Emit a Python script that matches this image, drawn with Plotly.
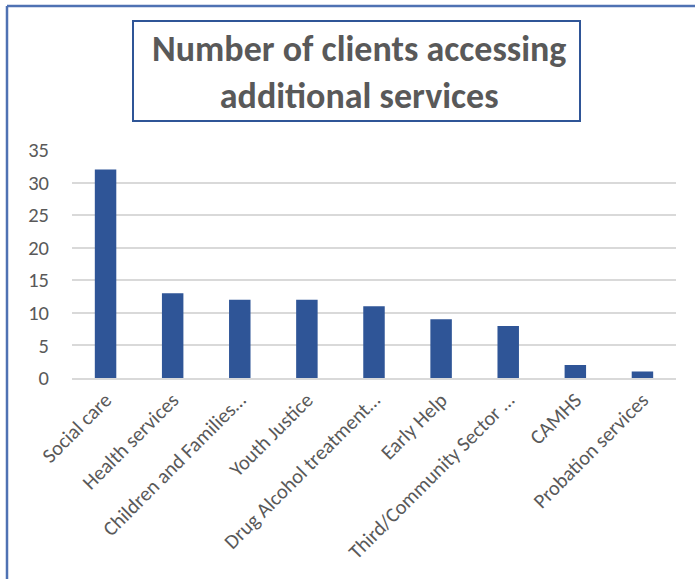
import plotly.graph_objects as go

# Services and the number of clients accessing each one
services = [
    "Social care",
    "Health services",
    "Children and Families…",
    "Youth Justice",
    "Drug Alcohol treatment…",
    "Early Help",
    "Third/Community Sector …",
    "CAMHS",
    "Probation services",
]
clients = [32, 13, 12, 12, 11, 9, 8, 2, 1]
y_ticks = [0, 5, 10, 15, 20, 25, 30, 35]

W, H = 695, 579
L, R, T, B = 72, 19, 150, 201
pw, ph = W - L - R, H - T - B


def px_x(x):
    return (x - L) / pw


def px_y(y):
    return 1 + (T - y) / ph


TEXT = "#595959"
FONT = "Carlito, 'Open Sans', sans-serif"

fig = go.Figure(
    go.Bar(
        x=services,
        y=clients,
        marker=dict(color="#2F5597", line=dict(width=0)),
        width=0.32,
    )
)

fig.update_layout(
    width=W,
    height=H,
    margin=dict(l=L, r=R, t=T, b=B),
    paper_bgcolor="white",
    plot_bgcolor="white",
    showlegend=False,
    font=dict(family=FONT, color=TEXT, size=20),
    xaxis=dict(
        tickangle=-45,
        tickfont=dict(size=20.5, color=TEXT),
        showgrid=False,
        showline=True,
        linecolor="#d9d9d9",
        linewidth=2,
        ticks="",
    ),
    yaxis=dict(
        range=[0, 35],
        tickvals=y_ticks,
        tickfont=dict(size=20.5, color=TEXT),
        showgrid=True,
        gridcolor="#d9d9d9",
        gridwidth=2,
        zeroline=False,
        showline=False,
        ticks="",
        ticklabelstandoff=22,
    ),
)

# Outer frame (top and left edges)
frame_x = px_x(7)
frame_y = px_y(6)
fig.add_shape(type="line", xref="paper", yref="paper",
              x0=frame_x, y0=frame_y, x1=px_x(W + 20), y1=frame_y,
              line=dict(color="#4f72b3", width=2.5))
fig.add_shape(type="line", xref="paper", yref="paper",
              x0=frame_x, y0=frame_y, x1=frame_x, y1=px_y(H + 20),
              line=dict(color="#4f72b3", width=2.5))

# Title box
fig.add_shape(type="rect", xref="paper", yref="paper",
              x0=px_x(133), x1=px_x(580), y0=px_y(121), y1=px_y(21),
              line=dict(color="#2F5597", width=2), fillcolor="white")
fig.add_annotation(
    xref="paper", yref="paper",
    x=px_x(359), y=px_y(72),
    text="<b>Number of clients accessing<br>additional services</b>",
    showarrow=False,
    font=dict(family=FONT, size=36, color=TEXT),
    align="center",
    xanchor="center", yanchor="middle",
)

fig.write_html("out.html")
